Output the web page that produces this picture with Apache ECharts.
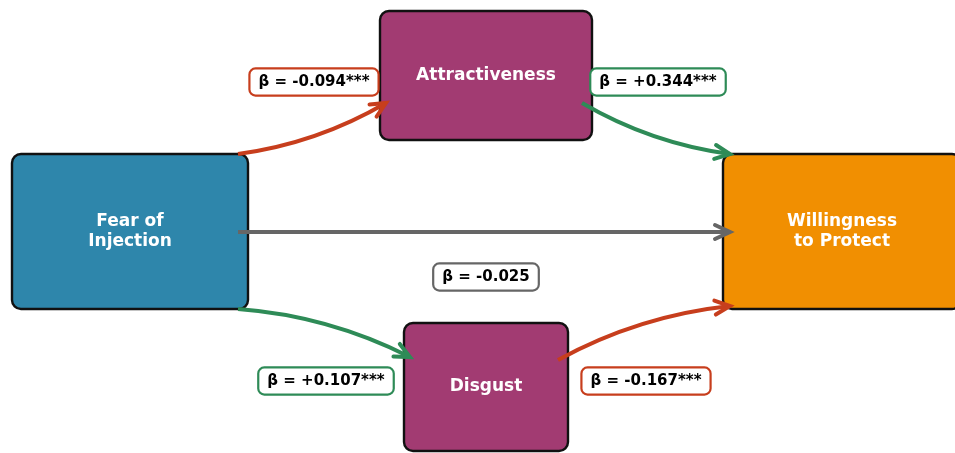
<!DOCTYPE html>
<html>
<head>
<meta charset="utf-8">
<script src="https://cdn.jsdelivr.net/npm/echarts@6/dist/echarts.min.js"></script>
<style>
html,body{margin:0;padding:0;background:#fff;}
#chart{width:955px;height:453px;}
</style>
</head>
<body>
<div id="chart"></div>
<script>
// ---- data ----
const nodeNames = ['Fear of\nInjection', 'Attractiveness', 'Disgust', 'Willingness\nto Protect'];
const pathFrom = [0, 1, 0, 2, 0];
const pathTo = [1, 3, 2, 3, 3];
const betas = [-0.094, 0.344, 0.107, -0.167, -0.025];
const stars = ['***', '***', '***', '***', ''];

// ---- layout (data-space pixels, y downward) ----
const nodeBoxes = [
  [12, 154, 248, 309],
  [380, 11, 592, 140],
  [404, 323, 568, 451],
  [723, 154, 961, 309]
];
const nodeColors = ['#2E86AB', '#A23B72', '#A23B72', '#F18F01'];
// start, end, curvature
const pathGeom = [
  [[238, 154], [386, 103], -0.1],
  [[582, 103], [730, 154], -0.1],
  [[238, 309], [410, 357], 0.1],
  [[558, 360], [730, 306], 0.1],
  [[238, 232], [730, 232], 0]
];
const labelPos = [[314, 82], [658, 82], [326, 381], [646, 381], [486, 277]];

const RED = '#C73E1D', GREEN = '#2E8B57', GRAY = '#666666';
function pathColor(i) {
  if (!stars[i]) return GRAY;
  return betas[i] > 0 ? GREEN : RED;
}
function betaText(i) {
  const b = betas[i];
  return 'β = ' + (b > 0 ? '+' : '') + b.toFixed(3) + stars[i];
}

const chart = echarts.init(document.getElementById('chart'), null, {renderer: 'canvas'});
const FAM = 'DejaVu Sans';

const option = {
  animation: false,
  backgroundColor: '#ffffff',
  grid: {left: 0, right: 0, top: 0, bottom: 0},
  xAxis: {type: 'value', min: 0, max: 955, show: false},
  yAxis: {type: 'value', min: 0, max: 453, inverse: true, show: false},
  series: [
    {
      type: 'custom',
      name: 'nodes',
      coordinateSystem: 'cartesian2d',
      clip: false,
      z: 1,
      data: nodeNames.map((n, i) => [i]),
      renderItem: function (params, api) {
        const i = params.dataIndex;
        const b = nodeBoxes[i];
        const p0 = api.coord([b[0], b[1]]);
        const p1 = api.coord([b[2], b[3]]);
        return {
          type: 'rect',
          shape: {x: p0[0], y: p0[1], width: p1[0] - p0[0], height: p1[1] - p0[1], r: 9},
          style: {fill: nodeColors[i], stroke: '#111111', lineWidth: 2.4},
          textContent: {
            style: {
              text: nodeNames[i], fill: '#ffffff', fontFamily: FAM, fontWeight: 'bold', fontSize: 17,
              align: 'center', verticalAlign: 'middle', lineHeight: 20
            }
          },
          textConfig: {position: 'inside'}
        };
      }
    },
    {
      type: 'custom',
      name: 'paths',
      coordinateSystem: 'cartesian2d',
      clip: false,
      z: 2,
      data: betas.map((b, i) => [i]),
      renderItem: function (params, api) {
        const i = params.dataIndex;
        const g = pathGeom[i];
        const s = api.coord(g[0]);
        const e = api.coord(g[1]);
        const mx = (s[0] + e[0]) / 2, my = (s[1] + e[1]) / 2;
        const dx = e[0] - s[0], dy = e[1] - s[1];
        const f = g[2];
        const cpx = mx + f * dy, cpy = my - f * dx;
        const color = pathColor(i);
        let tx = e[0] - cpx, ty = e[1] - cpy;
        const L = Math.hypot(tx, ty);
        tx /= L; ty /= L;
        const hl = 15, hw = 7;
        const bx = e[0] - tx * hl, by = e[1] - ty * hl;
        const nx = -ty, ny = tx;
        return {
          type: 'group',
          children: [
            {
              type: 'bezierCurve',
              shape: {x1: s[0], y1: s[1], x2: e[0], y2: e[1], cpx1: cpx, cpy1: cpy},
              style: {stroke: color, lineWidth: 4, fill: null, lineCap: 'butt'}
            },
            {
              type: 'polyline',
              shape: {points: [[bx + nx * hw, by + ny * hw], [e[0], e[1]], [bx - nx * hw, by - ny * hw]]},
              style: {stroke: color, lineWidth: 4, fill: null, lineJoin: 'miter', lineCap: 'round'}
            }
          ]
        };
      }
    },
    {
      type: 'custom',
      name: 'labels',
      coordinateSystem: 'cartesian2d',
      clip: false,
      z: 3,
      data: betas.map((b, i) => [i]),
      renderItem: function (params, api) {
        const i = params.dataIndex;
        const p = api.coord(labelPos[i]);
        return {
          type: 'text',
          x: p[0], y: p[1],
          style: {
            text: betaText(i), fontFamily: FAM, fontWeight: 'bold', fontSize: 15, fill: '#000000',
            align: 'center', verticalAlign: 'middle',
            backgroundColor: '#ffffff', borderColor: pathColor(i), borderWidth: 2.2,
            borderRadius: 5, padding: [5, 8, 5, 8]
          }
        };
      }
    }
  ]
};
chart.setOption(option);
</script>
</body>
</html>
